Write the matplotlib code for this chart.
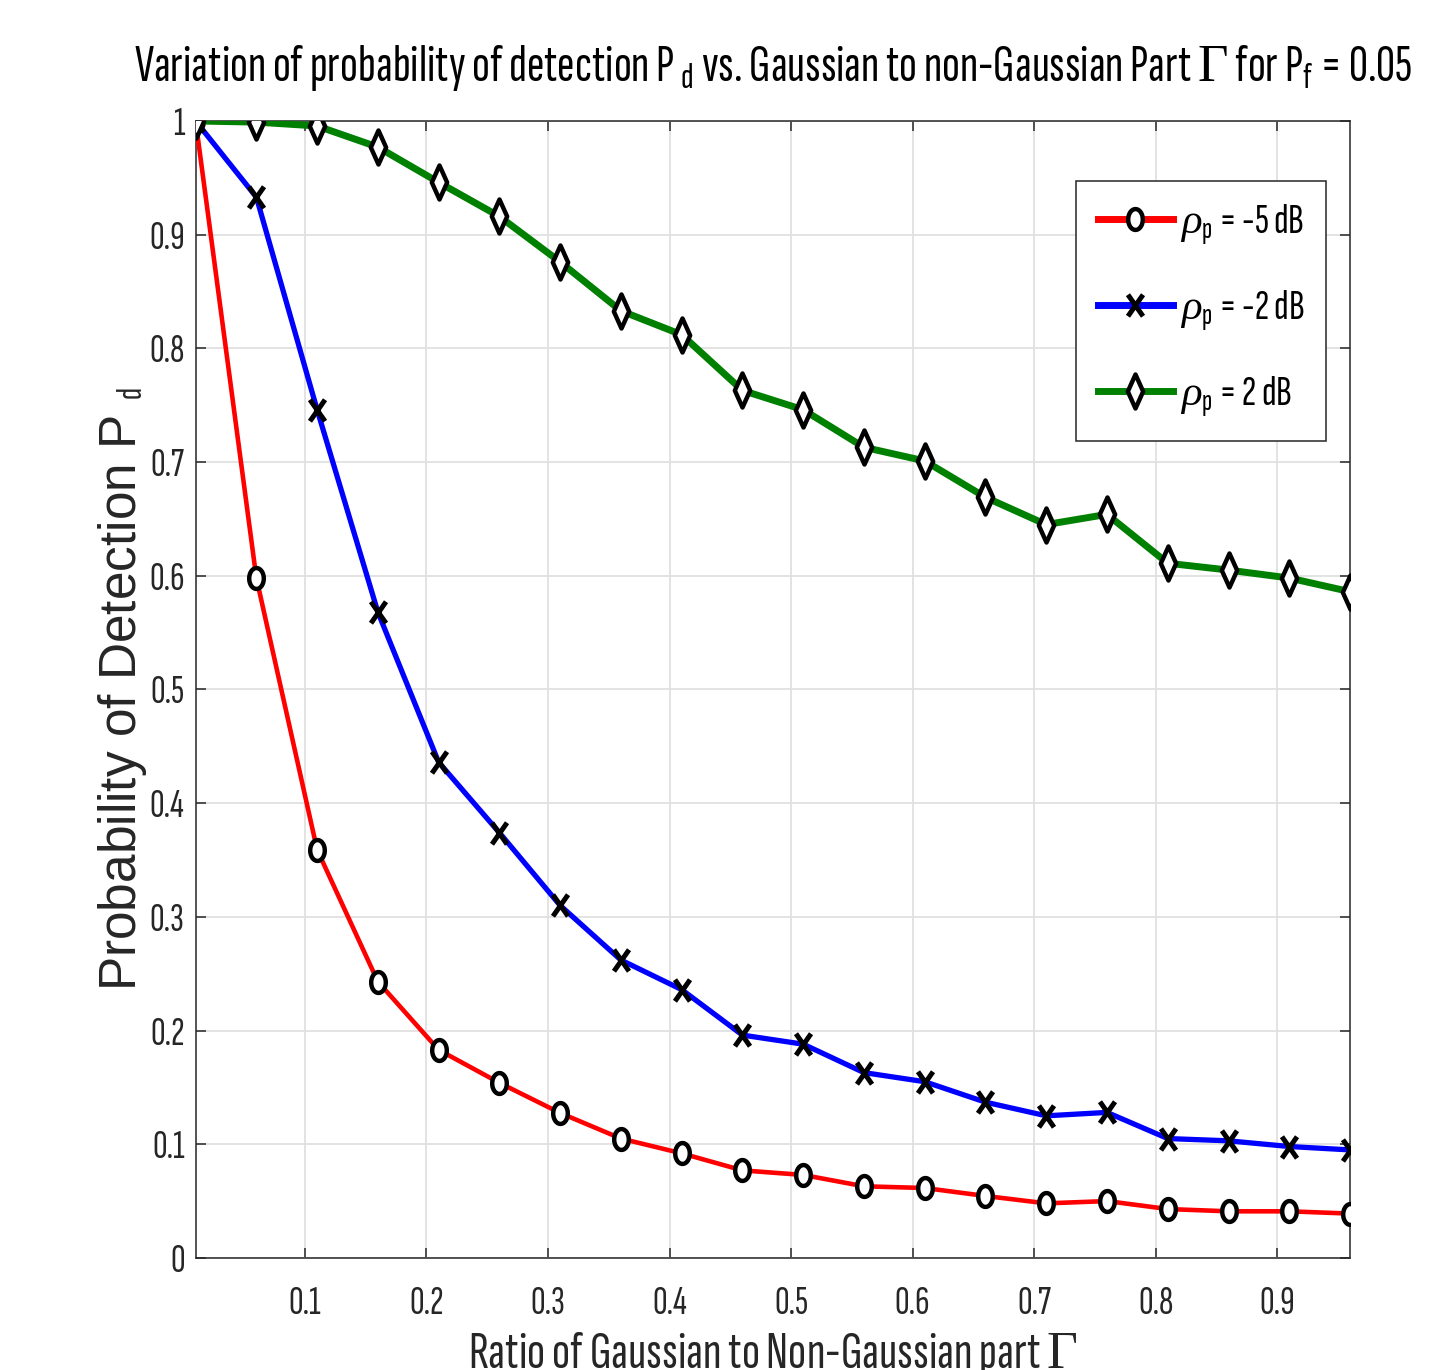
import numpy as np
import matplotlib
matplotlib.use("Agg")
import matplotlib.pyplot as plt
from matplotlib.path import Path

# ratio of Gaussian to non-Gaussian part
gamma = [0.01, 0.06, 0.11, 0.16, 0.21, 0.26, 0.31, 0.36, 0.41, 0.46,
         0.51, 0.56, 0.61, 0.66, 0.71, 0.76, 0.81, 0.86, 0.91, 0.96]

pd_m5 = [1.0, 0.598, 0.359, 0.243, 0.183, 0.154, 0.1275, 0.105, 0.092, 0.077,
         0.073, 0.063, 0.0615, 0.0545, 0.048, 0.050, 0.043, 0.041, 0.041, 0.039]
pd_m2 = [1.0, 0.933, 0.746, 0.568, 0.436, 0.374, 0.310, 0.262, 0.236, 0.196,
         0.188, 0.163, 0.155, 0.137, 0.125, 0.128, 0.105, 0.103, 0.098, 0.095]
pd_p2 = [1.0, 0.999, 0.9956, 0.977, 0.946, 0.916, 0.876, 0.833, 0.812, 0.763,
         0.746, 0.713, 0.701, 0.669, 0.645, 0.654, 0.611, 0.605, 0.598, 0.586]

labels = [r"$\rho_{\mathsf{p}}$ = -5 dB", r"$\rho_{\mathsf{p}}$ = -2 dB", r"$\rho_{\mathsf{p}}$ = 2 dB"]
xticks = [0.1, 0.2, 0.3, 0.4, 0.5, 0.6, 0.7, 0.8, 0.9]
yticks = [0, 0.1, 0.2, 0.3, 0.4, 0.5, 0.6, 0.7, 0.8, 0.9, 1.0]
ytick_labels = ["0", "0.1", "0.2", "0.3", "0.4", "0.5", "0.6", "0.7", "0.8", "0.9", "1"]

narrow = ["Sofia Sans Extra Condensed", "DejaVu Sans"]
plt.rcParams["font.family"] = narrow
plt.rcParams["mathtext.fontset"] = "custom"
plt.rcParams["mathtext.rm"] = "Liberation Serif"
plt.rcParams["mathtext.it"] = "Liberation Serif:italic"
plt.rcParams["mathtext.sf"] = "Sofia Sans Extra Condensed"

# squashed markers (reference image is horizontally compressed)
t = np.linspace(0, 2 * np.pi, 60)
ellipse = Path(np.column_stack([0.7 * np.cos(t), np.sin(t)]), closed=True)
diamond = Path([(0, 1), (0.45, 0), (0, -1), (-0.45, 0), (0, 1)], closed=True)
cross = Path([(-0.7, -1), (0.7, 1), (-0.7, 1), (0.7, -1)],
             [Path.MOVETO, Path.LINETO, Path.MOVETO, Path.LINETO])

fig = plt.figure(figsize=(14.49, 13.70), dpi=100)
ax = fig.add_axes([0.1350, 0.0818, 0.7967, 0.8299])

ax.plot(gamma, pd_m5, color="red", lw=3.3, marker=ellipse, ms=15,
        mfc="white", mec="black", mew=3.2, label=labels[0], zorder=3)
ax.plot(gamma, pd_m2, color="blue", lw=3.8, marker=cross, ms=15.5,
        mfc="none", mec="black", mew=3.6, label=labels[1], zorder=3)
ax.plot(gamma, pd_p2, color="green", lw=5.0, marker=diamond, ms=24.5,
        mfc="white", mec="black", mew=3.2, label=labels[2], zorder=3)

ax.set_xlim(0.01, 0.96)
ax.set_ylim(0, 1)
ax.set_xticks(xticks)
ax.set_xticklabels([str(v) for v in xticks])
ax.set_yticks(yticks)
ax.set_yticklabels(ytick_labels)
ax.grid(True, color="#e0e0e0", lw=1.3)
ax.set_axisbelow(True)
ax.tick_params(direction="in", length=7.5, width=1.1, top=True, right=True,
               labelsize=29, color="#262626", labelcolor="#262626")
ax.tick_params(axis="x", pad=20)
ax.tick_params(axis="y", pad=8)
for s in ax.spines.values():
    s.set_color("#262626")
    s.set_linewidth(1.1)

ax.set_title(r"Variation of probability of detection P $_{\mathsf{d}}$ vs. Gaussian to non-Gaussian Part $\Gamma$ for P$_{\mathsf{f}}$ = 0.05",
             fontsize=38, pad=29)
ax.set_xlabel(r"Ratio of Gaussian to Non-Gaussian part $\Gamma$", fontsize=38.5,
              color="#262626", labelpad=6)
ax.set_ylabel(r"Probability of Detection P $_{\mathsf{d}}$", fontsize=37,
              family=["Liberation Sans", "DejaVu Sans"], color="#262626", labelpad=0)

leg = ax.legend(loc="upper right", bbox_to_anchor=(0.979, 0.947), borderaxespad=0,
                fontsize=31, frameon=True, fancybox=False, edgecolor="#262626",
                framealpha=1, handlelength=1.75, handletextpad=0.15, labelspacing=0.95,
                borderpad=0.5)
leg.get_frame().set_linewidth(1.1)
for line in leg.get_lines():
    line.set_linewidth(5.0)

fig.savefig("out.png", dpi=100, facecolor="white")
